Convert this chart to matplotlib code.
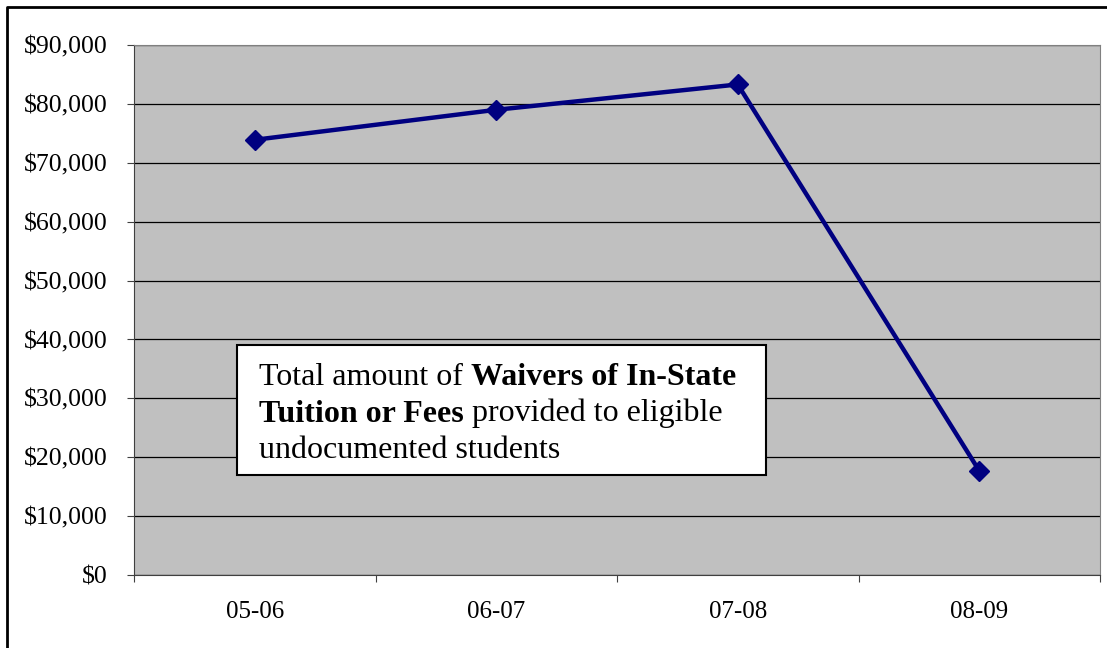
import matplotlib.pyplot as plt
from matplotlib.lines import Line2D
from matplotlib.patches import Rectangle
from matplotlib.text import Annotation
from matplotlib.ticker import FuncFormatter

plt.rcParams['font.family'] = ['Liberation Serif', 'DejaVu Serif']

years = ['05-06', '06-07', '07-08', '08-09']
waivers = [73900, 79000, 83300, 17700]

W, H = 1107, 648
fig = plt.figure(figsize=(W / 100, H / 100), dpi=100)
ax = fig.add_axes([134 / W, 1 - 575 / H, 966 / W, 530 / H])
ax.set_facecolor('#C0C0C0')

x = list(range(len(years)))
ax.plot(x, waivers, color='#000080', lw=3.2, marker='D', markersize=10.5, zorder=3)

ax.set_ylim(0, 90000)
ax.set_yticks(range(0, 90001, 10000))
ax.yaxis.set_major_formatter(FuncFormatter(lambda v, p: '${:,.0f}'.format(v)))
ax.grid(axis='y', color='black', lw=0.9)
ax.set_axisbelow(True)

# category boundaries carry the tick marks, labels sit between them
ax.set_xlim(-0.5, len(years) - 0.5)
ax.set_xticks([i - 0.5 for i in range(len(years) + 1)])
ax.set_xticklabels([])
ax.set_xticks(x, minor=True)
ax.set_xticklabels(years, minor=True)
ax.tick_params(axis='x', which='major', length=5, direction='out', color='#404040')
ax.tick_params(axis='x', which='minor', length=0, pad=19, labelsize=18)
ax.tick_params(axis='y', length=5, direction='out', pad=14, labelsize=18.5, color='#404040')

for s in ['top', 'right']:
    ax.spines[s].set_color('#808080')
ax.spines['left'].set_color('#404040')
ax.spines['bottom'].set_color('#404040')

# note box with mixed regular / bold text
fig.add_artist(Rectangle((237 / W, 1 - 475 / H), 529 / W, 130 / H,
                         transform=fig.transFigure, facecolor='white',
                         edgecolor='black', lw=1.5, zorder=5))
lines = [[('Total amount of ', 'normal'), ('Waivers of In-State', 'bold')],
         [('Tuition or Fees', 'bold'), (' provided to eligible', 'normal')],
         [('undocumented students', 'normal')]]
fs = 23
for k, parts in enumerate(lines):
    y = 1 - (385 + k * 36.5) / H
    last = None
    for txt, wt in parts:
        if last is None:
            last = fig.text(259 / W, y, txt, fontsize=fs, fontweight=wt,
                            va='baseline', ha='left', zorder=6)
        else:
            last = fig.add_artist(Annotation(txt, xy=(1, 0), xycoords=last,
                                             fontsize=fs, fontweight=wt,
                                             ha='left', va='bottom', zorder=6))

# outer frame
fig.add_artist(Line2D([7 / W, 7 / W, 1], [0, 1 - 7 / H, 1 - 7 / H],
                      transform=fig.transFigure, color='black', lw=2))

fig.savefig('out.png', dpi=100)
